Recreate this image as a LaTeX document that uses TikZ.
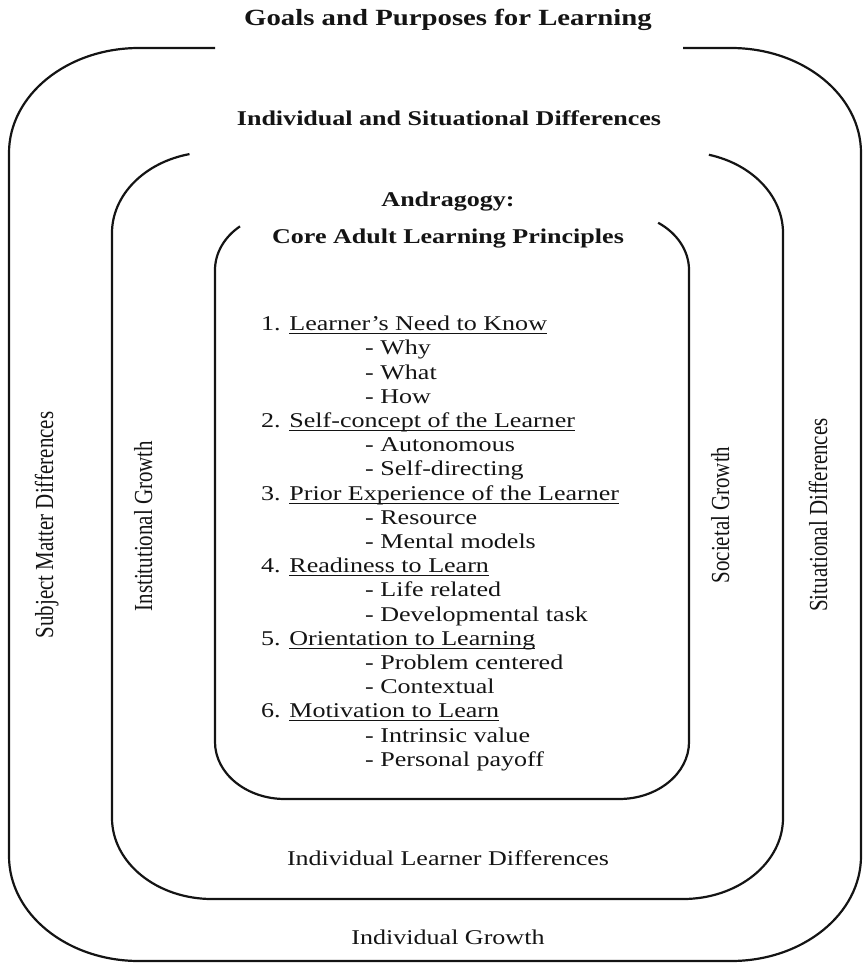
\documentclass[tikz,border=0pt]{standalone}
\usepackage{fontspec}
\usetikzlibrary{positioning}
\newfontfamily\wideserif[FakeStretch=1.24]{Liberation Serif}
\newfontfamily\tallserif[FakeStretch=0.806]{Liberation Serif}
\definecolor{inkblack}{RGB}{20,20,20}
\newsavebox\ulinebox
\newcommand{\ulinewords}[1]{\sbox\ulinebox{#1}\rlap{\rule[-3.5pt]{\wd\ulinebox}{1.1pt}}\usebox\ulinebox}

\begin{document}
\begin{tikzpicture}[x=1pt,y=-1pt,
    frameline/.style={draw=inkblack,line width=2.2pt},
    headline/.style={font=\wideserif\fontsize{21}{24}\selectfont\bfseries,text=inkblack,inner sep=0pt,anchor=base},
    plainlabel/.style={font=\wideserif\fontsize{21}{24}\selectfont,text=inkblack,inner sep=0pt,anchor=base},
    sidelabel/.style={font=\tallserif\fontsize{26}{28}\selectfont,text=inkblack,inner sep=0pt,rotate=90,anchor=base}]
  \useasboundingbox (0,0) rectangle (864,963);

  % outer ring
  \draw[frameline] (215,48) -- (139,48)
    arc[start angle=90,end angle=180,x radius=130pt,y radius=105pt] -- (9,856)
    arc[start angle=180,end angle=270,x radius=130pt,y radius=105pt] -- (731,961)
    arc[start angle=270,end angle=360,x radius=130pt,y radius=105pt] -- (861,153)
    arc[start angle=0,end angle=90,x radius=130pt,y radius=105pt] -- (683,48);
  % middle ring
  \draw[frameline] (212,233) ++(103:100pt and 81pt)
    arc[start angle=103,end angle=180,x radius=100pt,y radius=81pt] -- (112,818)
    arc[start angle=180,end angle=270,x radius=100pt,y radius=81pt] -- (683,899)
    arc[start angle=270,end angle=360,x radius=100pt,y radius=81pt] -- (783,233)
    arc[start angle=0,end angle=75,x radius=100pt,y radius=81pt];
  % inner ring
  \draw[frameline] (285,270) ++(130:70pt and 57pt)
    arc[start angle=130,end angle=180,x radius=70pt,y radius=57pt] -- (215,742)
    arc[start angle=180,end angle=270,x radius=70pt,y radius=57pt] -- (619,799)
    arc[start angle=270,end angle=360,x radius=70pt,y radius=57pt] -- (689,270)
    arc[start angle=0,end angle=56,x radius=70pt,y radius=57pt];

  \node[headline,font=\wideserif\fontsize{23.2}{26}\selectfont\bfseries] (goals) at (448,26) {Goals and Purposes for Learning};
  \node[headline] (situations) at (449,125) {Individual and Situational Differences};
  \node[headline] (andragogy) at (448,206.7) {Andragogy:};
  \node[headline,below=36.3pt of andragogy.base,anchor=base] (core) {Core Adult Learning Principles};

  \node[plainlabel,anchor=base west] (principles) at (261,330.7) {%
    \fontsize{21}{24.2}\selectfont
    \begin{tabular}[t]{@{}l@{}}
      1. \ulinewords{Learner’s Need to Know}\\
      \hspace*{104pt}- Why\\
      \hspace*{104pt}- What\\
      \hspace*{104pt}- How\\
      2. \ulinewords{Self-concept of the Learner}\\
      \hspace*{104pt}- Autonomous\\
      \hspace*{104pt}- Self-directing\\
      3. \ulinewords{Prior Experience of the Learner}\\
      \hspace*{104pt}- Resource\\
      \hspace*{104pt}- Mental models\\
      4. \ulinewords{Readiness to Learn}\\
      \hspace*{104pt}- Life related\\
      \hspace*{104pt}- Developmental task\\
      5. \ulinewords{Orientation to Learning}\\
      \hspace*{104pt}- Problem centered\\
      \hspace*{104pt}- Contextual\\
      6. \ulinewords{Motivation to Learn}\\
      \hspace*{104pt}- Intrinsic value\\
      \hspace*{104pt}- Personal payoff
    \end{tabular}};

  \node[plainlabel] (learnerdiff) at (448,865) {Individual Learner Differences};
  \node[plainlabel] (indgrowth) at (448,944) {Individual Growth};

  \node[sidelabel] (subject) at (53,525) {Subject Matter Differences};
  \node[sidelabel] (institution) at (152,526) {Institutional Growth};
  \node[sidelabel] (society) at (729,515) {Societal Growth};
  \node[sidelabel] (situational) at (827,515) {Situational Differences};
\end{tikzpicture}
\end{document}
